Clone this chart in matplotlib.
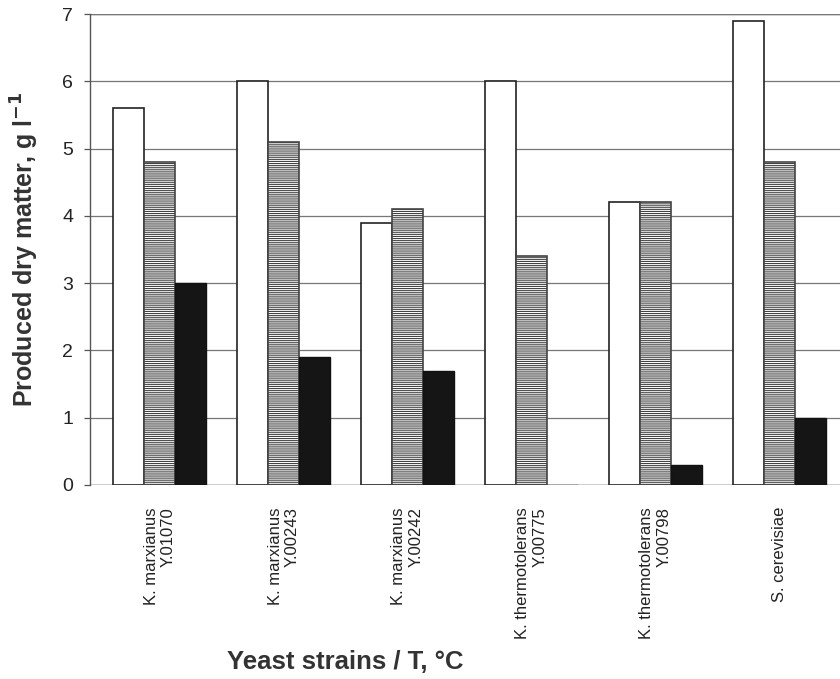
import numpy as np
import matplotlib.pyplot as plt

plt.rcParams['font.family'] = ['Liberation Sans', 'DejaVu Sans']
plt.rcParams['hatch.linewidth'] = 0.8

strains = ["K. marxianus\nY.01070", "K. marxianus\nY.00243", "K. marxianus\nY.00242",
           "K. thermotolerans\nY.00775", "K. thermotolerans\nY.00798", "S. cerevisiae"]
series_white = [5.6, 6.0, 3.9, 6.0, 4.2, 6.9]
series_hatch = [4.8, 5.1, 4.1, 3.4, 4.2, 4.8]
series_black = [3.0, 1.9, 1.7, 0.0, 0.3, 1.0]
yticks = [0, 1, 2, 3, 4, 5, 6, 7]

fig = plt.figure(figsize=(8.4, 6.79), dpi=100)
ax = fig.add_axes([0.107, 0.286, 0.893, 0.693])

x = np.arange(len(strains))
w = 0.25
ax.bar(x - w, series_white, w, color="white", edgecolor="#222222", linewidth=1.2, zorder=3)
ax.bar(x, series_hatch, w, color="white", edgecolor="#444444", hatch="--------",
       linewidth=1.2, zorder=3)
ax.bar(x + w, series_black, w, color="#151515", edgecolor="#111111", linewidth=1.0, zorder=3)

ax.set_xlim(-0.565, 5.49)
ax.set_ylim(0, 7)
ax.set_yticks(yticks)
ax.yaxis.grid(True, color="#777777", linewidth=0.9, zorder=0)
ax.axhline(7, color="#555555", linewidth=1.0, zorder=1)
ax.axhline(0, color="#555555", linewidth=1.0, zorder=2)

for side in ["top", "right", "bottom"]:
    ax.spines[side].set_visible(False)
ax.spines["left"].set_color("#555555")
ax.spines["left"].set_linewidth(1.0)

ax.tick_params(axis="y", length=4, width=0.9, color="#555555", labelsize=14,
               labelcolor="#222222", pad=8)
ax.set_xticks(x)
ax.set_xticklabels(strains, rotation=90, fontsize=12, multialignment="right",
                   va="top", ha="center", color="#222222")
ax.tick_params(axis="x", length=0, pad=16)

ax.set_ylabel("Produced dry matter, g l$^{\\mathbf{-1}}$", fontsize=18, fontweight="bold",
              color="#333333", labelpad=15)
ax.set_xlabel("Yeast strains / T, °C", fontsize=18.5, fontweight="bold", color="#333333")
# the x title sits left of the axes centre in the original
ax.xaxis.set_label_coords(0.34, -0.352)

fig.savefig("out.png", dpi=100)
